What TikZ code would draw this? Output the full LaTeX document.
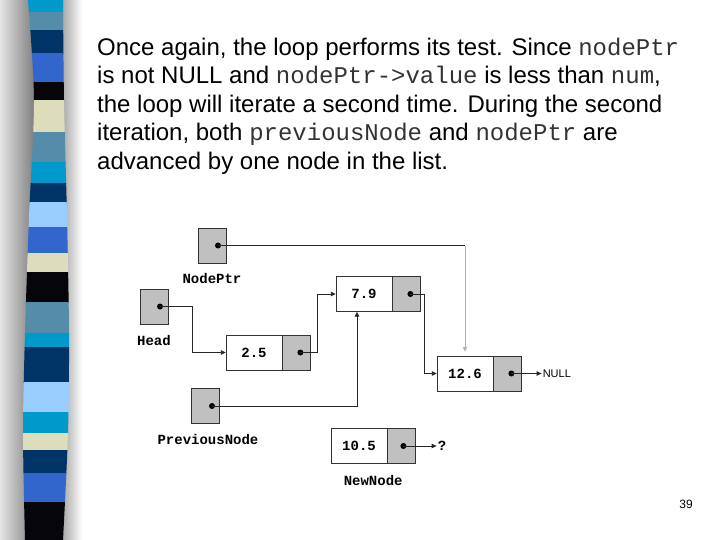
\documentclass[tikz,border=0pt]{standalone}
\usepackage{fontspec}
\setmainfont{Liberation Sans}
\newfontfamily\codefont{Liberation Mono}
\usetikzlibrary{positioning,arrows.meta}
\definecolor{cellgray}{RGB}{192,192,192}
\definecolor{stripcyan}{RGB}{0,153,204}
\definecolor{stripsteel}{RGB}{85,140,170}
\definecolor{stripnavy}{RGB}{0,51,102}
\definecolor{stripblue}{RGB}{51,102,204}
\definecolor{stripblack}{RGB}{5,5,10}
\definecolor{stripbeige}{RGB}{221,221,187}
\definecolor{striplight}{RGB}{153,204,255}
\newcommand{\code}[1]{{\codefont\color{black!80}#1}}

\begin{document}
\begin{tikzpicture}[x=1pt,y=-1pt,
    valcell/.style={draw=black!80,fill=white,minimum width=56pt,minimum height=35pt,inner sep=0pt,
        font=\codefont\bfseries\fontsize{14}{14}\selectfont},
    ptrcell/.style={draw=black!80,fill=cellgray,minimum width=28pt,minimum height=35pt,inner sep=0pt},
    ptrdot/.style={circle,fill=black,inner sep=0pt,minimum size=6pt},
    link/.style={draw=black!85,line width=0.9pt,-{Triangle[length=5pt,width=4.5pt]}},
    varname/.style={inner sep=0pt,font=\codefont\bfseries\fontsize{14}{14}\selectfont}]
  \useasboundingbox (0,0) rectangle (720,540);

  % side strip
  \shade[left color=black!10,right color=black!50] (0,0) rectangle (34,540);
  \shade[left color=black!35,right color=white] (62,0) rectangle (82,540);
  \begin{scope}
    \clip plot[smooth] coordinates {(28,0) (34,100) (29,217) (25,333) (23,433) (25,540)}
      -- plot[smooth] coordinates {(63,540) (68,433) (69,333) (67,217) (64,100) (63,0)} -- cycle;
    \foreach \ya/\yb/\c in {0/12/stripcyan,12/30/stripsteel,30/53/stripnavy,53/82/stripblue,
        82/100/stripblack,100/132/stripbeige,132/162/stripsteel,162/183/stripcyan,
        183/202/stripnavy,202/227/striplight,227/253/stripblue,253/272/stripbeige,
        272/302/stripblack,302/333/stripsteel,333/347/stripcyan,347/382/stripnavy,
        382/412/striplight,412/433/stripcyan,433/450/stripbeige,450/473/stripnavy,
        473/502/stripblue,502/540/stripblack}
      \fill[\c] (15,\ya) rectangle (80,{\yb+1});
  \end{scope}

  % text
  \node[anchor=north west,inner sep=0pt,align=left,font=\fontsize{24}{28.5}\selectfont] (intro) at (97,37.5)
    {Once again, the loop performs its test. Since \code{nodePtr}\\
     is not NULL and \code{nodePtr->value} is less than \code{num},\\
     the loop will iterate a second time. During the second\\
     iteration, both \code{previousNode} and \code{nodePtr} are\\
     advanced by one node in the list.};

  % pointers
  \node[ptrcell] (nptr) at (212,245.5) {};
  \node[ptrdot] (nptrdot) at ([xshift=6pt]nptr.center) {};
  \node[varname,below=10pt of nptr] (nptrlbl) {NodePtr};

  \node[ptrcell] (head) at (154,306.5) {};
  \node[ptrdot] (headdot) at ([xshift=6pt]head.center) {};
  \node[varname,below=11pt of head] (headlbl) {Head};

  \node[ptrcell] (prev) at (205,406) {};
  \node[ptrdot] (prevdot) at ([xshift=7pt]prev.center) {};
  \node[varname,below=10pt of prev,xshift=3pt] (prevlbl) {PreviousNode};

  % list
  \node[valcell] (n1) at (254,352.5) {2.5};
  \node[ptrcell,right=0pt of n1] (n1p) {};
  \node[ptrdot] (n1d) at ([xshift=4pt]n1p.center) {};

  \node[valcell] (n2) at (364,294) {7.9};
  \node[ptrcell,right=0pt of n2] (n2p) {};
  \node[ptrdot] (n2d) at ([xshift=4pt]n2p.center) {};

  \node[valcell] (n3) at (465,373.5) {12.6};
  \node[ptrcell,right=0pt of n3] (n3p) {};
  \node[ptrdot] (n3d) at ([xshift=4pt]n3p.center) {};
  \node[inner sep=1pt,font=\fontsize{11}{11}\selectfont,right=20pt of n3p] (nulltxt) {NULL};

  \node[valcell] (n4) at (359,446) {10.5};
  \node[ptrcell,right=0pt of n4] (n4p) {};
  \node[ptrdot] (n4d) at ([xshift=2pt]n4p.center) {};
  \node[varname,inner sep=1pt,right=21pt of n4p] (qmark) {?};
  \node[varname,below=11pt of n4.south east,xshift=-14pt] (newlbl) {NewNode};

  % links
  \draw[link] (headdot.center) -- ++(32,0) |- (n1.west);
  \draw[link] (n1d.center) -- ++(17,0) |- (n2.west);
  \draw[link] (n2d.center) -- ++(14,0) |- (n3.west);
  \draw[link] (n3d.center) -- (nulltxt.west);
  \draw[link] (n4d.center) -- (qmark.west);
  \coordinate (nbend) at (nptrdot.center -| n3.north);
  \draw[black!85,line width=0.9pt] (nptrdot.center) -- (nbend);
  \draw[link,draw=black!30] (nbend) -- ([yshift=4pt]n3.north);
  \draw[link] (prevdot.center) -| ([xshift=-7pt]n2.south);

  \node[inner sep=0pt,font=\fontsize{12}{12}\selectfont] (pagenum) at (686,504) {39};
\end{tikzpicture}
\end{document}
